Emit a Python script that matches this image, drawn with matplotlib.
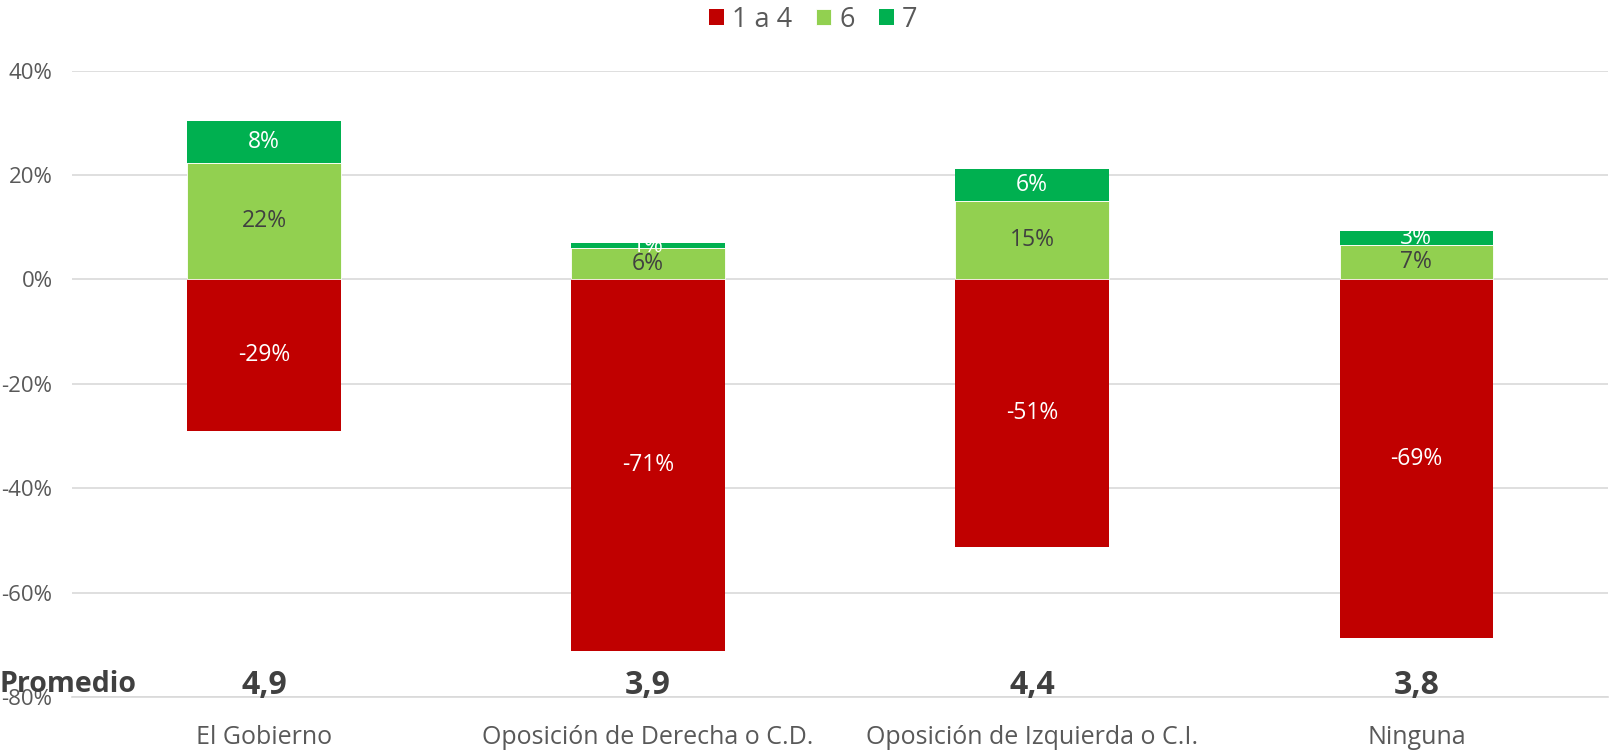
import matplotlib
matplotlib.use("Agg")
from matplotlib import pyplot as plt
from matplotlib.ticker import FuncFormatter
import numpy as np

plt.rcParams['font.family'] = ['Open Sans', 'DejaVu Sans']

categorias = ["El Gobierno", "Oposición de Derecha o C.D.", "Oposición de Izquierda o C.I.", "Ninguna"]
nota_1a4 = [-29.1, -71.2, -51.3, -68.6]
nota_6 = [22.4, 6.0, 15.1, 6.6]
nota_7 = [8.0, 1.0, 6.1, 2.6]
promedios = ["4,9", "3,9", "4,4", "3,8"]

rojo = "#c00000"
verde_claro = "#92d050"
verde = "#00b050"
gris = "#595959"

fig = plt.figure(figsize=(16.1, 7.52), dpi=100)
ax = fig.add_axes([72 / 1610, 0.073, 1 - 72 / 1610 - 0.001, 0.833])

x = np.arange(len(categorias))
w = 0.4
b1 = ax.bar(x, nota_1a4, w, color=rojo, label="1 a 4", zorder=3)
b6 = ax.bar(x, nota_6, w, color=verde_claro, label="6", zorder=3,
            edgecolor="white", linewidth=0.6)
b7 = ax.bar(x, nota_7, w, bottom=nota_6, color=verde, label="7", zorder=3)

for i in range(len(x)):
    ax.text(x[i], nota_1a4[i] / 2, f"{round(nota_1a4[i])}%", ha="center", va="center",
            color="white", fontsize=16.5, zorder=4)
    ax.text(x[i], nota_6[i] / 2, f"{round(nota_6[i])}%", ha="center", va="center",
            color="#404040", fontsize=16.5, zorder=4)
    ax.text(x[i], nota_6[i] + nota_7[i] / 2, f"{round(nota_7[i])}%", ha="center", va="center",
            color="white", fontsize=16.5, zorder=4)
    ax.text(x[i], -77.8, promedios[i], ha="center", va="center", color="#404040",
            fontsize=23, fontweight="bold", clip_on=False, zorder=5)

fig.text(0.0, (752 - 684) / 752, "Promedio", ha="left", va="center", color="#404040",
         fontsize=20.5, fontweight="bold", zorder=5)

ax.set_xlim(-0.5, 3.5)
ax.set_ylim(-80, 40)
ax.set_yticks(np.arange(-80, 41, 20))
ax.yaxis.set_major_formatter(FuncFormatter(lambda v, p: f"{int(v)}%"))
ax.set_xticks(x)
ax.set_xticklabels(categorias)
ax.tick_params(axis="both", length=0, colors=gris, labelsize=16)
ax.tick_params(axis="y", pad=14)
ax.tick_params(axis="x", pad=20, labelsize=18)
ax.grid(axis="y", color="#d9d9d9", linewidth=1.2, zorder=0)
for s in ["top", "right", "left"]:
    ax.spines[s].set_visible(False)
ax.spines["bottom"].set_color("#d9d9d9")
ax.spines["bottom"].set_linewidth(1.2)

leg = fig.legend(handles=[b1, b6, b7], loc="upper center", bbox_to_anchor=(0.505, 1.025), ncol=3,
                 frameon=False, fontsize=19.5, handlelength=0.55, handleheight=0.55,
                 handletextpad=0.3, columnspacing=0.9)
for t in leg.get_texts():
    t.set_color(gris)

fig.savefig("out.png", dpi=100)
